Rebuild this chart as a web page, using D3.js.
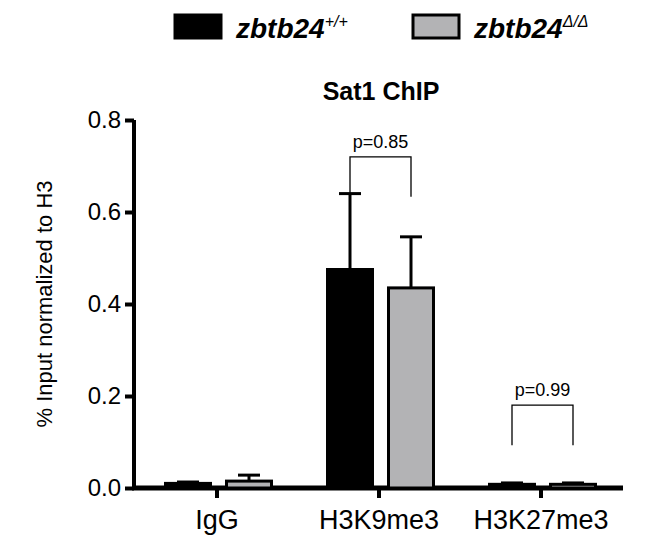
<!DOCTYPE html>
<html><head><meta charset="utf-8">
<script src="https://cdn.jsdelivr.net/npm/d3@7"></script>
<style>body{margin:0;background:#fff}text{font-family:Arial,"Liberation Sans",sans-serif}</style>
</head><body><svg id="c" width="659" height="552"></svg>
<script>
const categories=["IgG","H3K9me3","H3K27me3"];
const seriesNames=["zbtb24","zbtb24"];
const wtMean=[0.01,0.475,0.008];
const wtErr=[0.003,0.165,0.003];
const koMean=[0.015,0.435,0.008];
const koErr=[0.013,0.111,0.003];
const yTicks=[0,0.2,0.4,0.6,0.8];
const pvals=[{cat:1,text:"p=0.85",y:0.72},{cat:2,text:"p=0.99",y:0.18}];
const colors=["#000000","#b3b3b5"];

const svg=d3.select("#c");
const x0=d3.scaleBand().domain(categories).range([136,622]);
const y=d3.scaleLinear().domain([0,0.8]).range([488,120]);
const bw=45, off=[-29,32];
const g=svg.append("g");
const ya=g.append("g").attr("transform","translate(134,0)").call(d3.axisLeft(y).tickValues(yTicks).tickFormat(d3.format(".1f")).tickSize(8));
ya.attr("font-size",null).attr("font-family",null);
ya.select(".domain").attr("stroke-width",4).attr("d","M0,"+y(0.8)+"V"+490);
ya.selectAll(".tick line").attr("stroke-width",4).attr("x2",-9);
ya.selectAll(".tick text").style("font-size","24px").attr("x",-13);
const xa=g.append("g").attr("transform","translate(0,488)").call(d3.axisBottom(x0).tickSize(10));
xa.attr("font-size",null).attr("font-family",null);
xa.select(".domain").attr("stroke-width",5).attr("d","M132,0H623");
xa.selectAll(".tick line").attr("stroke-width",4);
xa.selectAll(".tick text").style("font-size","27px").attr("y",22);
const cx=c=>x0(c)+x0.bandwidth()/2;
[wtMean,koMean].forEach((m,s)=>{
  const err=s?koErr:wtErr;
  categories.forEach((c,i)=>{
    const xc=cx(c)+off[s];
    g.append("line").attr("x1",xc).attr("x2",xc).attr("y1",y(m[i])).attr("y2",y(m[i]+err[i])).attr("stroke","#000").attr("stroke-width",3);
    g.append("line").attr("x1",xc-11).attr("x2",xc+11).attr("y1",y(m[i]+err[i])).attr("y2",y(m[i]+err[i])).attr("stroke","#000").attr("stroke-width",3);
    g.append("rect").attr("x",xc-bw/2).attr("width",bw).attr("y",y(m[i])).attr("height",y(0)-y(m[i])).attr("fill",colors[s]).attr("stroke","#000").attr("stroke-width",3);
  });
});
pvals.forEach(p=>{
  const c=categories[p.cat], a=cx(c)+off[0], b=cx(c)+off[1], yy=y(p.y);
  g.append("path").attr("d",`M${a},${yy+40}V${yy}H${b}V${yy+40}`).attr("fill","none").attr("stroke","#000").attr("stroke-width",1.3);
  g.append("text").attr("x",(a+b)/2).attr("y",yy-9).attr("text-anchor","middle").style("font-size","18px").text(p.text);
});
svg.append("text").attr("x",381).attr("y",100).attr("text-anchor","middle").style("font-size","25px").attr("font-weight","bold").text("Sat1 ChIP");
svg.append("text").attr("transform","translate(52,304) rotate(-90)").attr("text-anchor","middle").style("font-size","22px").text("% Input normalized to H3");
const sups=["+/+","\u0394/\u0394"], lx=[175,413];
sups.forEach((s,i)=>{
  svg.append("rect").attr("x",lx[i]).attr("y",15).attr("width",46).attr("height",23).attr("fill",colors[i]).attr("stroke","#000").attr("stroke-width",3);
  const t=svg.append("text").attr("x",lx[i]+61).attr("y",38).style("font-size","28px").attr("font-weight","bold").attr("font-style","italic");
  t.append("tspan").text(seriesNames[i]);
  t.append("tspan").attr("dy",-11).style("font-size","16px").attr("font-weight","normal").text(s);
});
</script></body></html>
